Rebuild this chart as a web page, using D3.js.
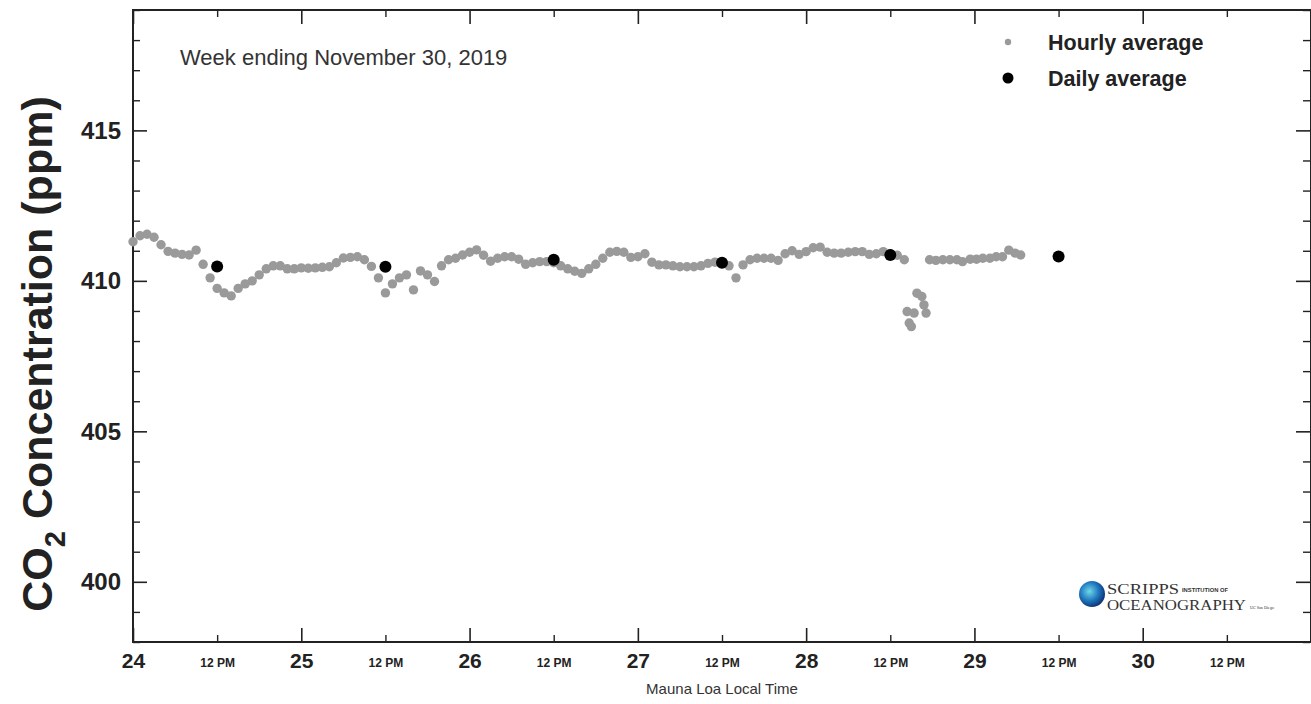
<!DOCTYPE html>
<html>
<head>
<meta charset="utf-8">
<script src="https://cdn.jsdelivr.net/npm/d3@7"></script>
<style>
  body { margin: 0; background: #fff; }
  svg { display: block; font-family: "Liberation Sans", Arial, sans-serif; }
</style>
</head>
<body>
<svg id="chart" width="1311" height="704"></svg>
<script>
// hours since Nov 24 00:00 (Mauna Loa local time)
const hourlyHours = [
  0, 1, 2, 3, 4, 5, 6, 7, 8, 9, 10, 11, 12, 13, 14, 15, 16, 17, 18, 19, 20, 21, 22, 23,
  24, 25, 26, 27, 28, 29, 30, 31, 32, 33, 34, 35, 36, 37, 38, 39, 40, 41, 42, 43, 44, 45, 46, 47,
  48, 49, 50, 51, 52, 53, 54, 55, 56, 57, 58, 59, 60, 61, 62, 63, 64, 65, 66, 67, 68, 69, 70, 71,
  72, 73, 74, 75, 76, 77, 78, 79, 80, 81, 82, 83, 84, 85, 86, 87, 88, 89, 90, 91, 92, 93, 94, 95,
  96, 97, 98, 99, 100, 101, 102, 103, 104, 105, 106, 107, 108, 109, 110,
  110.4, 110.7, 111, 111.4, 111.8, 112.5, 112.8, 113.1,
  113.6, 114.5, 115.5, 116.5, 117.5, 118.3, 119.4,
  120.3, 121.2, 122.2, 123.1, 124, 124.9, 125.8, 126.6
];
const hourlyCO2 = [
  411.3, 411.5, 411.55, 411.45, 411.2, 410.98, 410.92, 410.88, 410.86, 411.02, 410.55, 410.1,
  409.75, 409.6, 409.5, 409.75, 409.9, 410.0, 410.2, 410.4, 410.5, 410.5, 410.4, 410.4,
  410.43, 410.42, 410.43, 410.45, 410.47, 410.6, 410.76, 410.78, 410.8, 410.7, 410.48, 410.1,
  409.6, 409.9, 410.1, 410.2, 409.7, 410.33, 410.2, 409.98, 410.5, 410.7, 410.75, 410.86,
  410.95, 411.03, 410.85, 410.65, 410.75, 410.8, 410.8, 410.72, 410.55, 410.6, 410.64, 410.64,
  410.6, 410.5, 410.4, 410.32, 410.25, 410.4, 410.55, 410.75, 410.95, 410.98, 410.95, 410.78,
  410.8, 410.9, 410.62, 410.53, 410.53, 410.5, 410.47, 410.47, 410.47, 410.5, 410.58, 410.62,
  410.6, 410.5, 410.1, 410.53, 410.7, 410.75, 410.75, 410.75, 410.68, 410.9, 411.0, 410.88,
  410.97, 411.1, 411.12, 410.95, 410.92, 410.92, 410.95, 410.97, 410.97, 410.88, 410.9, 410.97,
  410.9, 410.85, 410.7,
  408.98, 408.6, 408.48, 408.93, 409.59, 409.48, 409.2, 408.93,
  410.7, 410.68, 410.7, 410.7, 410.7, 410.64, 410.72,
  410.72, 410.75, 410.75, 410.8, 410.8, 411.02, 410.92, 410.86
];
const dailyHours = [12, 36, 60, 84, 108, 132];
const dailyCO2 = [410.48, 410.47, 410.7, 410.6, 410.86, 410.81];

const dayTicks = [0, 24, 48, 72, 96, 120, 144, 168];
const dayLabels = ['24', '25', '26', '27', '28', '29', '30', ''];
const noonTicks = [12, 36, 60, 84, 108, 132, 156];
const yMajor = [400, 405, 410, 415];
const yMinor = [398, 399, 401, 402, 403, 404, 406, 407, 408, 409, 411, 412, 413, 414, 416, 417, 418, 419];

const plotLeft = 133, plotRight = 1311, plotTop = 10, plotBottom = 642;
const ink = '#222';

const svg = d3.select('#chart');
const x = d3.scaleLinear().domain([0, 168]).range([plotLeft, plotRight]);
const y = d3.scaleLinear().domain([398, 419]).range([plotBottom, plotTop]);

function styleTicks(g, w) {
  g.select('.domain').remove();
  g.selectAll('.tick line').attr('stroke', ink).attr('stroke-width', w);
}

// bottom axis: days and noon
svg.append('g')
  .attr('transform', `translate(0,${plotBottom})`)
  .call(d3.axisBottom(x).tickValues(dayTicks).tickSize(-14).tickFormat((d, i) => dayLabels[i]))
  .call(g => styleTicks(g, 1.6))
  .call(g => g.selectAll('text')
    .attr('y', 11).attr('dy', '0.71em')
    .attr('fill', ink).attr('font-size', 21).attr('font-weight', 'bold')
    .attr('font-family', 'Liberation Sans, Arial, sans-serif'));

svg.append('g')
  .attr('transform', `translate(0,${plotBottom})`)
  .call(d3.axisBottom(x).tickValues(noonTicks).tickSize(-7).tickFormat(() => '12 PM'))
  .call(g => styleTicks(g, 1.4))
  .call(g => g.selectAll('text')
    .attr('y', 16).attr('dy', '0.71em')
    .attr('fill', ink).attr('font-size', 12).attr('font-weight', 'bold')
    .attr('font-family', 'Liberation Sans, Arial, sans-serif'));

// top axis, ticks only
svg.append('g')
  .attr('transform', `translate(0,${plotTop})`)
  .call(d3.axisTop(x).tickValues(dayTicks).tickSize(-14).tickFormat(''))
  .call(g => styleTicks(g, 1.6));
svg.append('g')
  .attr('transform', `translate(0,${plotTop})`)
  .call(d3.axisTop(x).tickValues(noonTicks).tickSize(-7).tickFormat(''))
  .call(g => styleTicks(g, 1.4));

// left axis
svg.append('g')
  .attr('transform', `translate(${plotLeft},0)`)
  .call(d3.axisLeft(y).tickValues(yMajor).tickSize(-14).tickPadding(12))
  .call(g => styleTicks(g, 1.6))
  .call(g => g.selectAll('text')
    .attr('fill', ink).attr('font-size', 24).attr('font-weight', 'bold')
    .attr('font-family', 'Liberation Sans, Arial, sans-serif'));
svg.append('g')
  .attr('transform', `translate(${plotLeft},0)`)
  .call(d3.axisLeft(y).tickValues(yMinor).tickSize(-7).tickFormat(''))
  .call(g => styleTicks(g, 1.4));

// right axis, ticks only
svg.append('g')
  .attr('transform', `translate(${plotRight - 1},0)`)
  .call(d3.axisRight(y).tickValues(yMajor).tickSize(-14).tickFormat(''))
  .call(g => styleTicks(g, 1.6));
svg.append('g')
  .attr('transform', `translate(${plotRight - 1},0)`)
  .call(d3.axisRight(y).tickValues(yMinor).tickSize(-7).tickFormat(''))
  .call(g => styleTicks(g, 1.4));

// frame
svg.append('rect')
  .attr('x', plotLeft).attr('y', plotTop)
  .attr('width', plotRight - plotLeft).attr('height', plotBottom - plotTop)
  .attr('fill', 'none').attr('stroke', ink).attr('stroke-width', 2);

// hourly points
svg.append('g')
  .selectAll('circle')
  .data(hourlyHours)
  .join('circle')
  .attr('cx', d => x(d))
  .attr('cy', (d, i) => y(hourlyCO2[i]))
  .attr('r', 4.7)
  .attr('fill', '#9a9a9a');

// daily averages
svg.append('g')
  .selectAll('circle')
  .data(dailyHours)
  .join('circle')
  .attr('cx', d => x(d))
  .attr('cy', (d, i) => y(dailyCO2[i]))
  .attr('r', 6)
  .attr('fill', '#000');

// y label
const yLabel = svg.append('text')
  .attr('transform', 'translate(52,354) rotate(-90)')
  .attr('text-anchor', 'middle')
  .attr('font-size', 43)
  .attr('font-weight', 'bold')
  .attr('fill', ink);
yLabel.append('tspan').text('CO');
yLabel.append('tspan').attr('font-size', 29).attr('dy', 13).text('2');
yLabel.append('tspan').attr('dy', -13).text(' Concentration (ppm)');

// x label
svg.append('text')
  .attr('x', 722).attr('y', 694)
  .attr('text-anchor', 'middle')
  .attr('font-size', 15)
  .attr('fill', '#333')
  .text('Mauna Loa Local Time');

// week note
svg.append('text')
  .attr('x', 180).attr('y', 65)
  .attr('font-size', 22)
  .attr('fill', '#333')
  .text('Week ending November 30, 2019');

// legend
const legend = svg.append('g');
legend.append('circle').attr('cx', 1008).attr('cy', 42).attr('r', 3.2).attr('fill', '#9a9a9a');
legend.append('circle').attr('cx', 1008).attr('cy', 78).attr('r', 5.5).attr('fill', '#000');
legend.append('text').attr('x', 1048).attr('y', 50)
  .attr('font-size', 21.5).attr('font-weight', 'bold').attr('fill', ink).text('Hourly average');
legend.append('text').attr('x', 1048).attr('y', 86)
  .attr('font-size', 21.5).attr('font-weight', 'bold').attr('fill', ink).text('Daily average');

// Scripps logo
const defs = svg.append('defs');
const grad = defs.append('radialGradient').attr('id', 'globe').attr('cx', '40%').attr('cy', '40%').attr('r', '65%');
grad.append('stop').attr('offset', '0%').attr('stop-color', '#6fd8e8');
grad.append('stop').attr('offset', '55%').attr('stop-color', '#1f78bf');
grad.append('stop').attr('offset', '100%').attr('stop-color', '#0c2d6e');
const logo = svg.append('g').attr('fill', '#333').attr('font-family', 'Liberation Serif, DejaVu Serif, serif');
logo.append('circle').attr('cx', 1092).attr('cy', 594).attr('r', 13).attr('fill', 'url(#globe)');
logo.append('text').attr('x', 1107).attr('y', 594).attr('font-size', 15)
  .attr('textLength', 72).attr('lengthAdjust', 'spacingAndGlyphs').text('SCRIPPS');
logo.append('text').attr('x', 1182).attr('y', 592).attr('font-size', 5)
  .attr('textLength', 46).attr('lengthAdjust', 'spacingAndGlyphs')
  .attr('font-family', 'Liberation Sans, Arial, sans-serif').attr('font-weight', 'bold').text('INSTITUTION OF');
logo.append('text').attr('x', 1107).attr('y', 610).attr('font-size', 15)
  .attr('textLength', 139).attr('lengthAdjust', 'spacingAndGlyphs').text('OCEANOGRAPHY');
logo.append('text').attr('x', 1250).attr('y', 609).attr('font-size', 5)
  .attr('textLength', 24).attr('lengthAdjust', 'spacingAndGlyphs').text('UC San Diego');
</script>
</body>
</html>
